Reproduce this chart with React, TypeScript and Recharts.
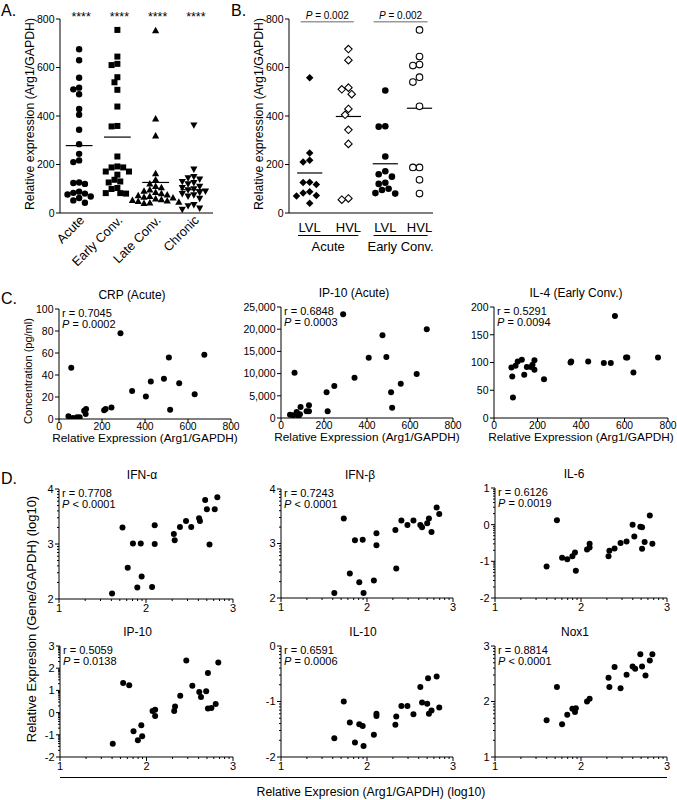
import React from 'react';
import { ScatterChart, Scatter, XAxis, YAxis, ReferenceLine } from 'recharts';

const FONT = '"Liberation Sans", Arial, Helvetica, sans-serif';

// ---- A. Arg1 expression by phase
const aGroups = ['Acute', 'Early Conv.', 'Late Conv.', 'Chronic'];
const aAcute = [675, 630, 558, 517, 510, 490, 429, 405, 343, 284, 244, 217, 210, 126, 124, 120, 88, 83, 80, 76, 68, 62, 52, 42];
const aEarly = [755, 645, 615, 610, 560, 539, 508, 439, 359, 357, 233, 192, 188, 188, 171, 171, 158, 137, 130, 126, 103, 99, 82, 82, 80];
const aLate = [752, 388, 318, 162, 137, 120, 110, 105, 95, 90, 85, 80, 75, 72, 68, 65, 62, 58, 55, 52, 50, 48, 45, 42, 40];
const aChronic = [363, 181, 150, 145, 140, 130, 125, 120, 110, 105, 100, 95, 90, 85, 80, 75, 70, 60, 35, 30, 20, 15];
const aMeans = [278, 313, 126, 96];
const aStars = ['****', '****', '****', '****'];
const aYTicks = [0, 200, 400, 600, 800];

// ---- B. low vs high viral load
const bTickLabels = ['LVL', 'HVL', 'LVL', 'HVL'];
const bPhases = ['Acute', 'Early Conv.'];
const bAcuteLVL = [558, 247, 218, 210, 127, 126, 118, 88, 82, 72, 70, 40];
const bAcuteHVL = [676, 630, 517, 510, 490, 429, 405, 343, 285, 60, 55];
const bEarlyLVL = [505, 358, 356, 233, 172, 160, 150, 125, 120, 100, 95, 82, 80];
const bEarlyHVL = [755, 645, 612, 608, 560, 540, 440, 188, 188, 137, 80];
const bMeans = [165, 398, 203, 432];
const bPvals = ['0.002', '0.002'];

// ---- C. correlations with plasma concentrations
const cTitles = ['CRP (Acute)', 'IP-10 (Acute)', 'IL-4 (Early Conv.)'];
const cR = ['0.7045', '0.6848', '0.5291'];
const cP = ['= 0.0002', '= 0.0003', '= 0.0094'];
const cXTicks = [0, 200, 400, 600, 800];
const crpX = [676, 631, 559, 517, 511, 488, 427, 404, 340, 286, 244, 217, 210, 126, 124, 117, 57, 96, 84, 65, 50, 44];
const crpY = [58.5, 22.5, 32.5, 8.5, 56, 36.5, 34, 20.5, 25.5, 78, 10.5, 9, 8, 9, 4.5, 7.5, 46.5, 1.5, 1.5, 1, 0.3, 2.5];
const crpYTicks = [0, 20, 40, 60, 80, 100];
const ip10X = [289, 472, 678, 408, 490, 631, 63, 342, 557, 248, 212, 512, 217, 517, 130, 119, 130, 91, 88, 73, 81, 42, 57];
const ip10Y = [23350, 18620, 19970, 13590, 13740, 9910, 10210, 9080, 7730, 7200, 5780, 5780, 1500, 2330, 1500, 1500, 2850, 2480, 830, 1350, 375, 750, 600];
const ip10YTicks = [0, 5000, 10000, 15000, 20000, 25000];
const il4X = [80, 84, 87, 99, 109, 128, 139, 151, 170, 177, 186, 186, 230, 352, 355, 433, 505, 537, 607, 613, 641, 556, 754];
const il4Y = [91, 75, 37, 94, 102, 105, 78, 92, 92, 96, 87, 104, 70, 100, 102, 102, 99, 99, 109, 109, 82, 184, 109];
const il4YTicks = [0, 50, 100, 150, 200];

// ---- D. log10 correlations with gene expression
const dTitles = ['IFN-α', 'IFN-β', 'IL-6', 'IP-10', 'IL-10', 'Nox1'];
const dR = ['0.7708', '0.7243', '0.6126', '0.5059', '0.6591', '0.8814'];
const dP = ['< 0.0001', '< 0.0001', '= 0.0019', '= 0.0138', '= 0.0006', '< 0.0001'];
const dXTicks = [1, 2, 3];
const ifnaX = [1.61, 1.73, 1.79, 1.85, 1.90, 1.94, 1.95, 2.07, 2.10, 2.10, 2.32, 2.33, 2.39, 2.46, 2.52, 2.61, 2.62, 2.68, 2.70, 2.73, 2.79, 2.82];
const ifnaY = [2.10, 3.30, 2.57, 3.01, 2.21, 3.01, 2.41, 2.22, 3.34, 3.00, 3.18, 3.07, 3.31, 3.42, 3.31, 3.47, 3.42, 3.80, 3.63, 2.99, 3.63, 3.85];
const ifnbX = [1.62, 1.73, 1.80, 1.86, 1.91, 1.95, 1.96, 2.08, 2.11, 2.11, 2.33, 2.34, 2.40, 2.47, 2.54, 2.62, 2.64, 2.70, 2.72, 2.75, 2.81, 2.84];
const ifnbY = [2.09, 3.46, 2.45, 3.06, 2.29, 3.07, 2.09, 2.32, 3.19, 2.97, 3.25, 2.54, 3.42, 3.34, 3.42, 3.34, 3.30, 3.37, 3.46, 3.21, 3.66, 3.54];
const il6X = [1.60, 1.72, 1.78, 1.84, 1.90, 1.93, 1.94, 2.07, 2.10, 2.10, 2.32, 2.33, 2.39, 2.46, 2.53, 2.60, 2.62, 2.69, 2.71, 2.71, 2.74, 2.80, 2.83];
const il6Y = [-1.14, 0.12, -0.90, -0.94, -0.86, -0.76, -1.26, -0.68, -0.52, -0.62, -0.86, -0.71, -0.65, -0.50, -0.46, 0.00, -0.32, -0.06, -0.07, -0.66, -0.47, 0.25, -0.52];
const dip10X = [1.61, 1.73, 1.80, 1.85, 1.90, 1.94, 1.95, 2.07, 2.10, 2.10, 2.32, 2.33, 2.39, 2.46, 2.53, 2.61, 2.63, 2.69, 2.71, 2.71, 2.75, 2.80, 2.83];
const dip10Y = [-1.40, 1.33, 1.23, -0.84, -1.25, -0.57, -1.07, 0.07, 0.13, -0.15, 0.07, 0.28, 0.76, 2.35, 1.21, 0.93, 0.70, 0.96, 1.78, 0.18, 0.21, 0.39, 2.26];
const il10X = [1.62, 1.73, 1.80, 1.86, 1.91, 1.95, 1.96, 2.08, 2.11, 2.11, 2.33, 2.34, 2.40, 2.47, 2.54, 2.62, 2.64, 2.70, 2.71, 2.72, 2.75, 2.81, 2.84];
const il10Y = [-1.66, -1.00, -1.38, -1.74, -1.41, -1.44, -1.80, -1.60, -1.22, -1.26, -1.42, -1.27, -1.08, -1.08, -1.23, -0.74, -1.02, -1.04, -0.58, -1.22, -1.16, -0.55, -1.11];
const nox1X = [1.60, 1.72, 1.78, 1.84, 1.90, 1.93, 1.94, 2.07, 2.10, 2.32, 2.33, 2.39, 2.46, 2.53, 2.60, 2.63, 2.69, 2.71, 2.75, 2.80, 2.83];
const nox1Y = [1.66, 2.26, 1.59, 1.76, 1.87, 1.81, 1.88, 2.00, 2.05, 2.43, 2.26, 2.62, 2.24, 2.48, 2.63, 2.59, 2.85, 2.63, 2.47, 2.74, 2.85];

// ---- layout
type Geo = { l: number; r: number; t: number; b: number };
const GA: Geo = { l: 60, r: 213, t: 19, b: 213 };
const GB: Geo = { l: 289, r: 433, t: 19, b: 213 };
const GC: Geo[] = [
  { l: 59, r: 231, t: 309, b: 419 },
  { l: 281, r: 453, t: 307, b: 418 },
  { l: 494, r: 668, t: 307, b: 418 },
];
const GD: Geo[] = [
  { l: 59, r: 233, t: 489, b: 599 },
  { l: 281, r: 453, t: 489, b: 598 },
  { l: 495, r: 667, t: 488, b: 598 },
  { l: 60, r: 233, t: 646, b: 757 },
  { l: 281, r: 453, t: 646, b: 757 },
  { l: 495, r: 667, t: 646, b: 757 },
];
const cTitleX = [132, 354, 576];
const dTitleDx = [-4, -7, -7, -9, -4, -6];
const bPos = [1.15, 3.3, 5.35, 7.25];
const bSpans: [number, number][] = [[0.5, 3.85], [4.7, 7.7]];
const bPSpans: [number, number][] = [[0.65, 3.6], [4.7, 7.7]];

const YW = 50;
const MT = 12;
const MR = 14;

const pts = (xs: number[], ys: number[]) => xs.map((x, i) => ({ x, y: ys[i] }));
const isInt = (v: number) => Math.abs(v - Math.round(v)) < 1e-6;
const logMinors = (lo: number, hi: number) => {
  const out: number[] = [];
  for (let d = lo; d < hi; d += 1) {
    out.push(d);
    for (let k = 2; k <= 9; k += 1) out.push(d + Math.log10(k));
  }
  out.push(hi);
  return out;
};

// spreads points of one column sideways so they don't sit on each other
function swarm(values: number[], center: number, g: Geo, xDom: [number, number], yDom: [number, number], d: number) {
  const kx = (g.r - g.l) / (xDom[1] - xDom[0]);
  const ky = (g.b - g.t) / (yDom[1] - yDom[0]);
  const order = values.map((_, i) => i).sort((a, b) => values[b] - values[a]);
  const placed: [number, number][] = [];
  const out: { x: number; y: number }[] = new Array(values.length);
  order.forEach((i) => {
    const py = values[i] * ky;
    let off = 0;
    for (let k = 0; k < 40; k += 1) {
      const cand = (k % 2 === 1 ? -1 : 1) * Math.ceil(k / 2) * d * 0.5;
      if (placed.every(([qx, qy]) => Math.hypot(qx - cand, qy - py) >= d)) {
        off = cand;
        break;
      }
    }
    placed.push([off, py]);
    out[i] = { x: center + off / kx, y: values[i] };
  });
  return out;
}

// ---- markers
const circle = (r: number, open = false) => (p: any) => (
  <circle cx={p.cx} cy={p.cy} r={r} fill={open ? '#fff' : '#000'} stroke="#000" strokeWidth={open ? 1.1 : 0} />
);
const square = (s: number) => (p: any) => (
  <rect x={p.cx - s / 2} y={p.cy - s / 2} width={s} height={s} fill="#000" />
);
const triangle = (s: number, down = false) => (p: any) => {
  const h = s * 0.9;
  const dir = down ? -1 : 1;
  return (
    <polygon
      points={`${p.cx},${p.cy - dir * h * 0.6} ${p.cx - s / 2},${p.cy + dir * h * 0.4} ${p.cx + s / 2},${p.cy + dir * h * 0.4}`}
      fill="#000"
    />
  );
};
const diamond = (s: number, open = false) => (p: any) => (
  <polygon
    points={`${p.cx},${p.cy - s / 2} ${p.cx + s / 2},${p.cy} ${p.cx},${p.cy + s / 2} ${p.cx - s / 2},${p.cy}`}
    fill={open ? '#fff' : '#000'}
    stroke="#000"
    strokeWidth={open ? 1.1 : 0}
  />
);

// ---- ticks
type TickOpts = { fs?: number; fmt?: (v: number) => string; major?: (v: number) => boolean; len?: number; gap?: number };
const bottomTick = ({ fs = 10.5, fmt = String, major = () => true, len = 4, gap = 0.3 }: TickOpts) => (props: any) => {
  const { x, y, payload } = props;
  const v = payload.value;
  const mj = major(v);
  return (
    <g>
      <line x1={x} x2={x} y1={y} y2={y + (mj ? len : len / 2)} stroke="#000" />
      {mj && (
        <text x={x} y={y + len + gap + fs * 0.72} textAnchor="middle" fontSize={fs} fontFamily={FONT} fill="#000">
          {fmt(v)}
        </text>
      )}
    </g>
  );
};
const leftTick = ({ fs = 10.5, fmt = String, major = () => true, len = 4 }: TickOpts) => (props: any) => {
  const { x, y, payload } = props;
  const v = payload.value;
  const mj = major(v);
  return (
    <g>
      <line x1={x - (mj ? len : len / 2)} x2={x} y1={y} y2={y} stroke="#000" />
      {mj && (
        <text x={x - len - 1.5} y={y + fs * 0.36} textAnchor="end" fontSize={fs} fontFamily={FONT} fill="#000">
          {fmt(v)}
        </text>
      )}
    </g>
  );
};
const rotatedTick = (labels: string[]) => (props: any) => {
  const { x, y, payload } = props;
  const ax = x + 6;
  const ay = y + 8;
  return (
    <text x={ax} y={ay} transform={`rotate(-45 ${ax} ${ay})`} textAnchor="end" fontSize={12.8} fontFamily={FONT} fill="#000">
      {labels[Math.floor(payload.value)]}
    </text>
  );
};
const plainTick = (labels: string[], pos: number[]) => (props: any) => {
  const { x, y, payload } = props;
  return (
    <text x={x} y={y + 18.5} textAnchor="middle" fontSize={13} fontFamily={FONT} fill="#000">
      {labels[pos.indexOf(payload.value)]}
    </text>
  );
};

type PlotProps = {
  g: Geo;
  xDom: [number, number];
  yDom: [number, number];
  xTicks: number[];
  yTicks: number[];
  xTick: any;
  yTick: any;
  xh?: number;
  children: React.ReactNode;
};
function Plot({ g, xDom, yDom, xTicks, yTicks, xTick, yTick, xh = 36, children }: PlotProps) {
  const width = g.r - g.l + YW + MR;
  const height = g.b - g.t + MT + xh;
  return (
    <div style={{ position: 'absolute', left: g.l - YW, top: g.t - MT }}>
      <ScatterChart width={width} height={height} margin={{ top: MT, right: MR, left: 0, bottom: 0 }} style={{ overflow: 'visible' }}>
        <XAxis
          type="number"
          dataKey="x"
          domain={xDom}
          ticks={xTicks}
          interval={0}
          allowDataOverflow
          height={xh}
          tickSize={0}
          tickMargin={0}
          tickLine={false}
          axisLine={{ stroke: '#000', strokeWidth: 1 }}
          tick={xTick}
        />
        <YAxis
          type="number"
          dataKey="y"
          domain={yDom}
          ticks={yTicks}
          interval={0}
          allowDataOverflow
          width={YW}
          tickSize={0}
          tickMargin={0}
          tickLine={false}
          axisLine={{ stroke: '#000', strokeWidth: 1 }}
          tick={yTick}
        />
        {children}
      </ScatterChart>
    </div>
  );
}

function PanelA() {
  const xDom: [number, number] = [0, 4];
  const yDom: [number, number] = [0, 800];
  const groups = [aAcute, aEarly, aLate, aChronic];
  const shapes = [circle(3.2), square(6), triangle(7.2), triangle(7.2, true)];
  return (
    <Plot
      g={GA}
      xDom={xDom}
      yDom={yDom}
      xTicks={[0.5, 1.5, 2.5, 3.5]}
      yTicks={aYTicks}
      xTick={rotatedTick(aGroups)}
      yTick={leftTick({})}
      xh={80}
    >
      {groups.map((vals, i) => (
        <Scatter
          key={aGroups[i]}
          data={swarm(vals, i + 0.5, GA, xDom, yDom, 5.8)}
          shape={shapes[i]}
          isAnimationActive={false}
        />
      ))}
      {aMeans.map((m, i) => (
        <ReferenceLine key={`m${i}`} segment={[{ x: i + 0.5 - 0.35, y: m }, { x: i + 0.5 + 0.35, y: m }]} stroke="#000" strokeWidth={1.2} />
      ))}
    </Plot>
  );
}

function PanelB() {
  const xDom: [number, number] = [0, 8];
  const yDom: [number, number] = [0, 800];
  const groups = [bAcuteLVL, bAcuteHVL, bEarlyLVL, bEarlyHVL];
  const shapes = [diamond(7.5), diamond(7.5, true), circle(3.3), circle(3.3, true)];
  return (
    <Plot
      g={GB}
      xDom={xDom}
      yDom={yDom}
      xTicks={bPos}
      yTicks={aYTicks}
      xTick={plainTick(bTickLabels, bPos)}
      yTick={leftTick({})}
      xh={40}
    >
      {groups.map((vals, i) => (
        <Scatter
          key={`b${i}`}
          data={swarm(vals, bPos[i], GB, xDom, yDom, 6.6)}
          shape={shapes[i]}
          isAnimationActive={false}
        />
      ))}
      {bMeans.map((m, i) => (
        <ReferenceLine key={`bm${i}`} segment={[{ x: bPos[i] - 0.7, y: m }, { x: bPos[i] + 0.7, y: m }]} stroke="#000" strokeWidth={1.2} />
      ))}
      {bPSpans.map((s, i) => (
        <ReferenceLine key={`bp${i}`} segment={[{ x: s[0], y: 789 }, { x: s[1], y: 789 }]} stroke="#9a9a9a" strokeWidth={1.5} />
      ))}
    </Plot>
  );
}

function PanelC() {
  const sets = [
    { xs: crpX, ys: crpY, yDom: [0, 100] as [number, number], yTicks: crpYTicks, fmt: String },
    { xs: ip10X, ys: ip10Y, yDom: [0, 25000] as [number, number], yTicks: ip10YTicks, fmt: (v: number) => v.toLocaleString('en-US') },
    { xs: il4X, ys: il4Y, yDom: [0, 200] as [number, number], yTicks: il4YTicks, fmt: String },
  ];
  return (
    <>
      {sets.map((s, i) => (
        <Plot
          key={cTitles[i]}
          g={GC[i]}
          xDom={[0, 800]}
          yDom={s.yDom}
          xTicks={cXTicks}
          yTicks={s.yTicks}
          xTick={bottomTick({ fs: 10.3, gap: -0.5 })}
          yTick={leftTick({ fmt: s.fmt })}
        >
          <Scatter data={pts(s.xs, s.ys)} shape={circle(3)} isAnimationActive={false} />
        </Plot>
      ))}
    </>
  );
}

function PanelD() {
  const sets = [
    { xs: ifnaX, ys: ifnaY, yDom: [2, 4] as [number, number] },
    { xs: ifnbX, ys: ifnbY, yDom: [2, 4] as [number, number] },
    { xs: il6X, ys: il6Y, yDom: [-2, 1] as [number, number] },
    { xs: dip10X, ys: dip10Y, yDom: [-2, 3] as [number, number] },
    { xs: il10X, ys: il10Y, yDom: [-2, 0] as [number, number] },
    { xs: nox1X, ys: nox1Y, yDom: [1, 3] as [number, number] },
  ];
  return (
    <>
      {sets.map((s, i) => (
        <Plot
          key={dTitles[i]}
          g={GD[i]}
          xDom={[1, 3]}
          yDom={s.yDom}
          xTicks={logMinors(dXTicks[0], dXTicks[dXTicks.length - 1])}
          yTicks={logMinors(s.yDom[0], s.yDom[1])}
          xTick={bottomTick({ fs: 11, major: isInt, gap: 0.8 })}
          yTick={leftTick({ fs: 11, major: isInt })}
        >
          <Scatter data={pts(s.xs, s.ys)} shape={circle(3)} isAnimationActive={false} />
        </Plot>
      ))}
    </>
  );
}

function Stat({ g, r, p }: { g: Geo; r: string; p: string }) {
  return (
    <g fontSize={11} fontFamily={FONT} fill="#000">
      <text x={g.l + 3} y={g.t + 7.5}>r = {r}</text>
      <text x={g.l + 3} y={g.t + 18.5}>
        <tspan fontStyle="italic">P</tspan> {p}
      </text>
    </g>
  );
}

function Overlay() {
  const ax = (u: number) => GA.l + (u / 4) * (GA.r - GA.l);
  const bx = (u: number) => GB.l + (u / 8) * (GB.r - GB.l);
  const yLab = 'Relative expression (Arg1/GAPDH)';
  return (
    <svg
      width={677}
      height={800}
      style={{ position: 'absolute', left: 0, top: 0, pointerEvents: 'none' }}
      fontFamily={FONT}
    >
      <g fontSize={16} fill="#000">
        <text x={1} y={16}>A.</text>
        <text x={231} y={16}>B.</text>
        <text x={1} y={304}>C.</text>
        <text x={1} y={484}>D.</text>
      </g>

      {aStars.map((s, i) => (
        <text key={`s${i}`} x={ax(i + 0.5) + 2} y={21} textAnchor="middle" fontSize={12.5} fill="#000">{s}</text>
      ))}
      <text transform="translate(33.5,114) rotate(-90)" textAnchor="middle" fontSize={12.3} fill="#000">{yLab}</text>
      <text transform="translate(262.5,114) rotate(-90)" textAnchor="middle" fontSize={12.3} fill="#000">{yLab}</text>

      {bPSpans.map((s, i) => (
        <text key={`pv${i}`} x={bx((s[0] + s[1]) / 2)} y={19} textAnchor="middle" fontSize={10} fill="#000">
          <tspan fontStyle="italic">P</tspan> = {bPvals[i]}
        </text>
      ))}
      {bSpans.map((s, i) => (
        <g key={`bs${i}`}>
          <line x1={bx(s[0])} x2={bx(s[1])} y1={235.5} y2={235.5} stroke="#000" strokeWidth={1} />
          <text x={bx((s[0] + s[1]) / 2)} y={251} textAnchor="middle" fontSize={13} fill="#000">{bPhases[i]}</text>
        </g>
      ))}

      {GC.map((g, i) => (
        <g key={`c${i}`}>
          <text x={cTitleX[i]} y={g.t - 10} textAnchor="middle" fontSize={12} fill="#000">{cTitles[i]}</text>
          <Stat g={g} r={cR[i]} p={cP[i]} />
          <text x={(g.l + g.r) / 2} y={g.b + 22.5} textAnchor="middle" fontSize={11.8} fill="#000">
            Relative Expression (Arg1/GAPDH)
          </text>
        </g>
      ))}
      <text transform="translate(32,371) rotate(-90)" textAnchor="middle" fontSize={11} fill="#000">Concentration (pg/ml)</text>

      {GD.map((g, i) => (
        <g key={`d${i}`}>
          <text x={(g.l + g.r) / 2 + dTitleDx[i]} y={g.t - 10} textAnchor="middle" fontSize={12} fill="#000">{dTitles[i]}</text>
          <Stat g={g} r={dR[i]} p={dP[i]} />
        </g>
      ))}
      <text transform="translate(35.5,619) rotate(-90)" textAnchor="middle" fontSize={13} fill="#000">
        Relative Expresion (Gene/GAPDH) (log10)
      </text>
      <line x1={GD[3].l} x2={GD[5].r} y1={777.5} y2={777.5} stroke="#000" strokeWidth={1} />
      <text x={371} y={796} textAnchor="middle" fontSize={12.3} fill="#000">
        Relative Expresion (Arg1/GAPDH) (log10)
      </text>
    </svg>
  );
}

export default function App() {
  return (
    <div style={{ position: 'absolute', left: 0, top: 0, width: 677, height: 800, background: '#fff', overflow: 'hidden' }}>
      <PanelA />
      <PanelB />
      <PanelC />
      <PanelD />
      <Overlay />
    </div>
  );
}
